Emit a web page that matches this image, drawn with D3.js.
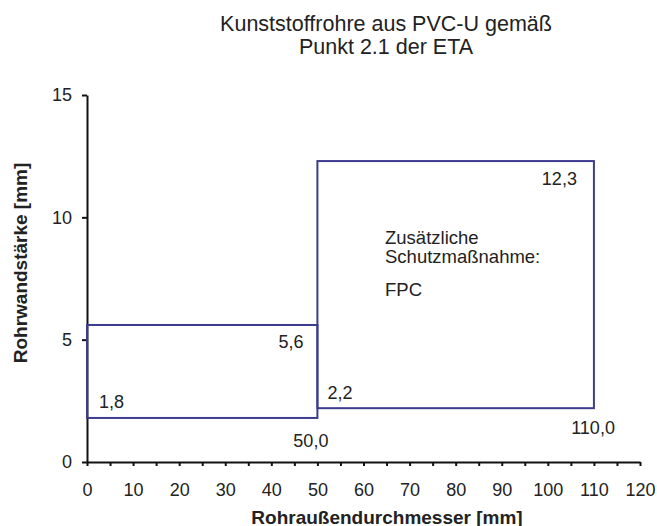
<!DOCTYPE html>
<html>
<head>
<meta charset="utf-8">
<script src="https://cdn.jsdelivr.net/npm/d3@7"></script>
<style>
  body { margin: 0; background: #fff; }
  text { font-family: "Liberation Sans", Arial, sans-serif; fill: #222; }
</style>
</head>
<body>
<div id="chart"></div>
<script>
// boxes (pipe diameter range vs wall thickness range)
const boxXFrom = [0, 50];
const boxXTo = [50, 110];
const boxYFrom = [1.8, 2.2];
const boxYTo = [5.6, 12.3];

// value annotations
const noteText = ["1,8", "5,6", "50,0", "2,2", "110,0", "12,3"];
const noteX = [0, 50, 50, 50, 110, 110];
const noteY = [1.8, 5.6, 1.8, 2.2, 2.2, 12.3];

const xTicks = d3.range(0, 121, 5);
const yTicks = [0, 5, 10, 15];

const titleLines = ["Kunststoffrohre aus PVC-U gemäß", "Punkt 2.1 der ETA"];
const boxText = ["Zusätzliche", "Schutzmaßnahme:", "FPC"];

const W = 657, H = 526;
const lineColor = "#3c3c8e";

const svg = d3.select("#chart").append("svg")
  .attr("width", W).attr("height", H);

const x = d3.scaleLinear().domain([0, 120]).range([87, 640]);
const y = d3.scaleLinear().domain([0, 15]).range([462, 95]);

// title
svg.append("g").selectAll("text")
  .data(titleLines).enter().append("text")
  .attr("x", 386)
  .attr("y", (d, i) => 31 + i * 23)
  .attr("text-anchor", "middle")
  .attr("font-size", 21.5)
  .text(d => d);

// axes
const xAxis = d3.axisBottom(x)
  .tickValues(xTicks)
  .tickSizeInner(4).tickSizeOuter(0).tickPadding(17)
  .tickFormat(d => d % 10 === 0 ? d : "");
const yAxis = d3.axisLeft(y)
  .tickValues(yTicks)
  .tickSizeInner(5).tickSizeOuter(0).tickPadding(10);

const gx = svg.append("g").attr("transform", `translate(0,${y(0)})`).call(xAxis);
const gy = svg.append("g").attr("transform", `translate(${x(0)},0)`).call(yAxis);

[gx, gy].forEach(g => {
  g.select(".domain").attr("stroke", "#111").attr("stroke-width", 2);
  g.selectAll(".tick line").attr("stroke", "#111").attr("stroke-width", 2);
  g.selectAll(".tick text")
    .attr("font-size", 18)
    .attr("font-family", "Liberation Sans, Arial, sans-serif")
    .attr("fill", "#222");
});

// boxes
svg.append("g").selectAll("rect")
  .data(boxXFrom).enter().append("rect")
  .attr("x", (d, i) => x(boxXFrom[i]))
  .attr("y", (d, i) => y(boxYTo[i]))
  .attr("width", (d, i) => x(boxXTo[i]) - x(boxXFrom[i]))
  .attr("height", (d, i) => y(boxYFrom[i]) - y(boxYTo[i]))
  .attr("fill", "none")
  .attr("stroke", lineColor)
  .attr("stroke-width", 2);

// value annotations (offsets relative to the corner they describe)
const noteDx = [12, -14, 11, 10, 21, -17];
const noteDy = [-10, 23, 29, -9, 26, 24];
const noteAnchor = ["start", "end", "end", "start", "end", "end"];
svg.append("g").selectAll("text")
  .data(noteText).enter().append("text")
  .attr("x", (d, i) => x(noteX[i]) + noteDx[i])
  .attr("y", (d, i) => y(noteY[i]) + noteDy[i])
  .attr("text-anchor", (d, i) => noteAnchor[i])
  .attr("font-size", 18)
  .text(d => d);

// text inside the big box
const boxTextY = [244, 263, 296];
svg.append("g").selectAll("text")
  .data(boxText).enter().append("text")
  .attr("x", 385)
  .attr("y", (d, i) => boxTextY[i])
  .attr("font-size", 18.5)
  .text(d => d);

// axis titles
svg.append("text")
  .attr("x", 387).attr("y", 523.5)
  .attr("text-anchor", "middle")
  .attr("font-size", 19)
  .attr("font-weight", "bold")
  .text("Rohraußendurchmesser [mm]");

svg.append("text")
  .attr("transform", "translate(27,263) rotate(-90)")
  .attr("text-anchor", "middle")
  .attr("font-size", 19)
  .attr("font-weight", "bold")
  .text("Rohrwandstärke [mm]");
</script>
</body>
</html>
